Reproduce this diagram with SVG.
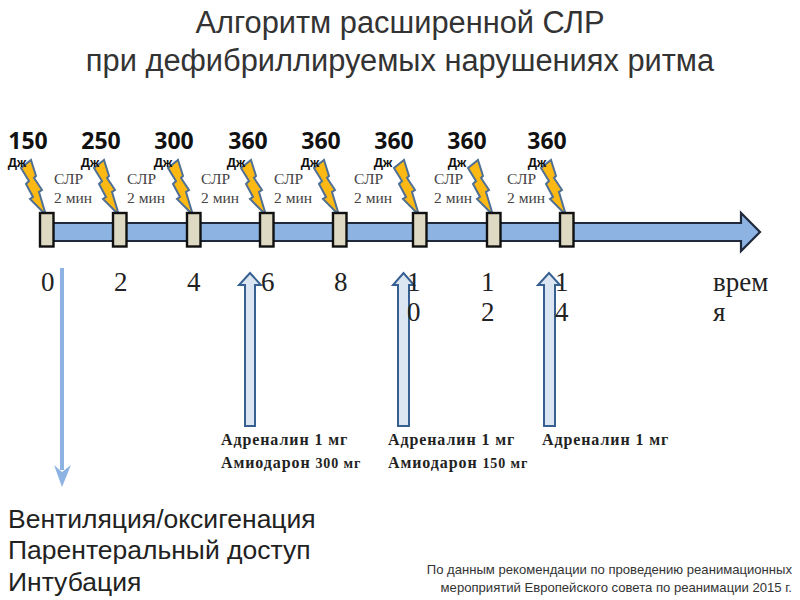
<svg xmlns="http://www.w3.org/2000/svg" width="800" height="600" viewBox="0 0 800 600">
<style>
.s{font-family:"Liberation Sans",Arial,sans-serif}
.t{font-family:"Liberation Serif","Times New Roman",serif}
.title{font-size:30.8px;fill:#333;text-anchor:middle}
.j{font-size:23px;font-weight:bold;fill:#111;font-family:"Open Sans","DejaVu Sans",sans-serif;text-anchor:middle}
.d{font-size:13px;font-weight:bold;fill:#111;text-anchor:middle}
.c{font-size:15.5px;fill:#444}
.n{font-size:27px;fill:#222}
.a{font-size:16px;font-weight:bold;fill:#222;letter-spacing:.9px}
.b{font-size:26.5px;fill:#222}
.tick{fill:#ddd9c3;stroke:#111;stroke-width:2.4}
.bolt{fill:#fdb913;stroke:#4f6f94;stroke-width:2;stroke-linejoin:miter}
.up{fill:#dce6f2;stroke:#376092;stroke-width:2}
</style>
<defs>
<polygon id="b" class="bolt" points="31,160 36,176 34,178 42,190 39,192 45,212 43,212 30,199 33,197 26,184 29,181 21,168"/>
</defs>
<rect width="800" height="600" fill="#fff"/>
<text class="s title" x="400" y="33">Алгоритм расширенной СЛР</text>
<text class="s title" x="400" y="71">при дефибриллируемых нарушениях ритма</text>
<g id="connectors">
<polygon id="timeline" points="46,223 741,223 741,213 760,232 741,251 741,241 46,241" fill="#8db3e2" stroke="#1f2a3c" stroke-width="2.2"/>
<g id="arrow-ventilation"><line x1="62" y1="268" x2="62" y2="470" stroke="#8db3e2" stroke-width="4"/><polygon points="54,465 62,472 71,465 62,487" fill="#8db3e2"/></g>
<polygon id="arrow-6" class="up" points="245,426 245,285 239,285 250,273 261,285 255,285 255,426"/>
<polygon id="arrow-10" class="up" points="398,426 398,285 393,285 403.500,273 414,285 409,285 409,426"/>
<polygon id="arrow-14" class="up" points="544,426 544,285 538,285 549,273 560,285 555,285 555,426"/>
</g>
<g id="shock-1"><use href="#b"/><rect class="tick" x="40" y="213" width="13.500" height="33.500"/><text class="j" x="28" y="149">150</text><text class="s d" x="17" y="167">Дж</text><text class="t c" x="54" y="184">СЛР</text><text class="t c" x="54" y="203">2 мин</text></g>
<g id="shock-2"><use href="#b" x="73"/><rect class="tick" x="113" y="213" width="13.500" height="33.500"/><text class="j" x="101" y="149">250</text><text class="s d" x="90" y="167">Дж</text><text class="t c" x="127" y="184">СЛР</text><text class="t c" x="127" y="203">2 мин</text></g>
<g id="shock-3"><use href="#b" x="147"/><rect class="tick" x="187" y="213" width="13.500" height="33.500"/><text class="j" x="174" y="149">300</text><text class="s d" x="163" y="167">Дж</text><text class="t c" x="201" y="184">СЛР</text><text class="t c" x="201" y="203">2 мин</text></g>
<g id="shock-4"><use href="#b" x="220"/><rect class="tick" x="260" y="213" width="13.500" height="33.500"/><text class="j" x="248" y="149">360</text><text class="s d" x="236" y="167">Дж</text><text class="t c" x="274" y="184">СЛР</text><text class="t c" x="274" y="203">2 мин</text></g>
<g id="shock-5"><use href="#b" x="293"/><rect class="tick" x="333" y="213" width="13.500" height="33.500"/><text class="j" x="321" y="149">360</text><text class="s d" x="310" y="167">Дж</text><text class="t c" x="354" y="184">СЛР</text><text class="t c" x="354" y="203">2 мин</text></g>
<g id="shock-6"><use href="#b" x="373"/><rect class="tick" x="413" y="213" width="13.500" height="33.500"/><text class="j" x="394" y="149">360</text><text class="s d" x="383" y="167">Дж</text><text class="t c" x="434" y="184">СЛР</text><text class="t c" x="434" y="203">2 мин</text></g>
<g id="shock-7"><use href="#b" x="447"/><rect class="tick" x="487" y="213" width="13.500" height="33.500"/><text class="j" x="467" y="149">360</text><text class="s d" x="457" y="167">Дж</text><text class="t c" x="507" y="184">СЛР</text><text class="t c" x="507" y="203">2 мин</text></g>
<g id="shock-8"><use href="#b" x="520"/><rect class="tick" x="560" y="213" width="13.500" height="33.500"/><text class="j" x="547" y="149">360</text><text class="s d" x="537" y="167">Дж</text></g>
<g id="time-labels" class="t n">
<text x="41" y="291">0</text><text x="114" y="291">2</text><text x="187" y="291">4</text><text x="261" y="291">6</text><text x="334" y="291">8</text>
<text x="407" y="291">1</text><text x="407" y="321">0</text>
<text x="481" y="291">1</text><text x="481" y="321">2</text>
<text x="555" y="291">1</text><text x="555" y="321">4</text>
<text x="713" y="291">врем</text><text x="713" y="321">я</text>
</g>
<g id="drug-1" class="t a"><text x="221" y="445">Адреналин 1 мг</text><text x="221" y="468">Амиодарон <tspan font-size="14">300 мг</tspan></text></g>
<g id="drug-2" class="t a"><text x="388" y="445">Адреналин 1 мг</text><text x="388" y="468">Амиодарон <tspan font-size="14">150 мг</tspan></text></g>
<g id="drug-3" class="t a"><text x="542" y="445">Адреналин 1 мг</text></g>
<g id="actions" class="s b"><text x="8" y="528">Вентиляция/оксигенация</text><text x="8" y="559">Парентеральный доступ</text><text x="8" y="591">Интубация</text></g>
<g id="source" class="s" font-size="13.1" fill="#333" text-anchor="end"><text x="792" y="574">По данным рекомендации по проведению реанимационных</text><text x="792" y="592">мероприятий Европейского совета по реанимации 2015 г.</text></g>
</svg>
